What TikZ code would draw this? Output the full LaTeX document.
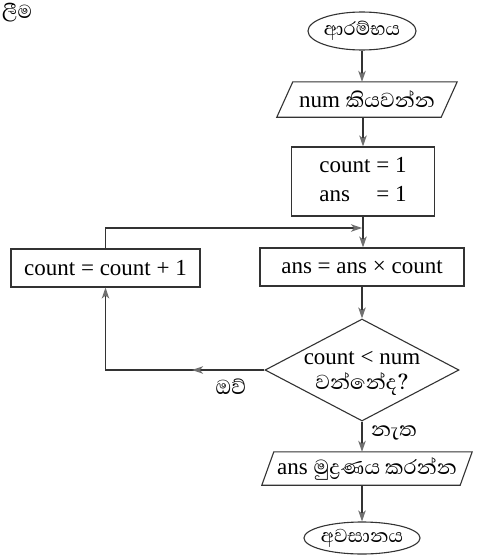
\documentclass[tikz,border=0pt]{standalone}
\usepackage{fontspec}
\setmainfont{Liberation Serif}
\newfontfamily\sinfont[Script=Sinhala]{Abhaya Libre}
\usetikzlibrary{arrows.meta,shapes.geometric,decorations.markings}
\definecolor{ln}{HTML}{333333}
\definecolor{hd}{HTML}{707070}
\newcommand{\sis}{\sinfont\fontsize{26}{30}\selectfont}
\newcommand{\sit}{\sinfont\fontsize{24}{28}\selectfont}
\begin{document}
\begin{tikzpicture}[x=1pt,y=-1pt,
  line/.style={draw=ln, line width=1.1pt},
  arr/.style={line, -{Stealth[length=11pt,width=7.5pt,inset=3pt,color=hd]}},
  midarr/.style={postaction={decorate}, decoration={markings,
      mark=at position #1 with {\arrow{Stealth[length=11pt,width=7.5pt,inset=3pt,color=hd]}}}},
  lat/.style={font=\fontsize{23}{29}\selectfont},
  si/.style={font=\sis},
  box/.style={line, rectangle, inner sep=0pt, lat},
  term/.style={line, ellipse, inner sep=0pt, font=\sit},
  para/.style={rectangle, inner sep=0pt, lat},
  lbl/.style={inner sep=0pt, si}]
\useasboundingbox (0,0) rectangle (478,557);
\fill[white] (0,0) rectangle (478,557);

\node[lbl, anchor=west, font=\sit] (frag) at (2,13) {ලීම};

\node[term, minimum width=97, minimum height=38] (s) at (362,31) {ආරම්භය};
\node[para, minimum width=164, minimum height=35] (p1) at (367,99.5) {num {\sis කියවන්න}};
\node[box, minimum width=143, minimum height=69] (c1) at (363,181.5)
  {\begin{tabular}{@{}l@{ }l@{}}count & = 1\\ ans & = 1\end{tabular}};
\node[box, minimum width=204, minimum height=38] (a) at (362,267) {ans = ans × count};
\node[box, minimum width=189, minimum height=38] (cp) at (105.5,268) {count = count + 1};
\node[line, diamond, minimum width=194, minimum height=102, inner sep=0pt] (d) at (362,370) {};
\node[lat, align=center, inner sep=0pt] (dt) at (362,373)
  {count < num\\[-4pt]{\sis වන්නේද?}};
\node[para, minimum width=198, minimum height=33] (p2) at (367,468.5)
  {ans {\sis මුද්^^^^200dරණය කරන්න}};
\node[term, minimum width=84, minimum height=32] (e) at (362,538) {අවසානය};
\node[lbl] (yes) at (231,387) {ඔව්};
\node[lbl] (no) at (394,433) {නැත};
\coordinate (j) at (362,228);

\draw[line] ([xshift=8pt]p1.north west) -- ([xshift=8pt]p1.north east)
  -- ([xshift=-8pt]p1.south east) -- ([xshift=-8pt]p1.south west) -- cycle;
\draw[line] ([xshift=6pt]p2.north west) -- ([xshift=6pt]p2.north east)
  -- ([xshift=-6pt]p2.south east) -- ([xshift=-6pt]p2.south west) -- cycle;

\draw[arr] (s.south) -- (s.south |- p1.north);
\draw[arr] (c1.north |- p1.south) -- (c1.north);
\draw[arr] (c1.south) -- (c1.south |- a.north);
\draw[arr] (cp.north) |- (j);
\draw[arr] (a.south -| d.north) -- (d.north);
\draw[arr, midarr=0.3] (d.west) -| (cp.south);
\draw[arr] (d.south) -- (d.south |- p2.north);
\draw[arr] (e.north |- p2.south) -- (e.north);
\end{tikzpicture}
\end{document}
